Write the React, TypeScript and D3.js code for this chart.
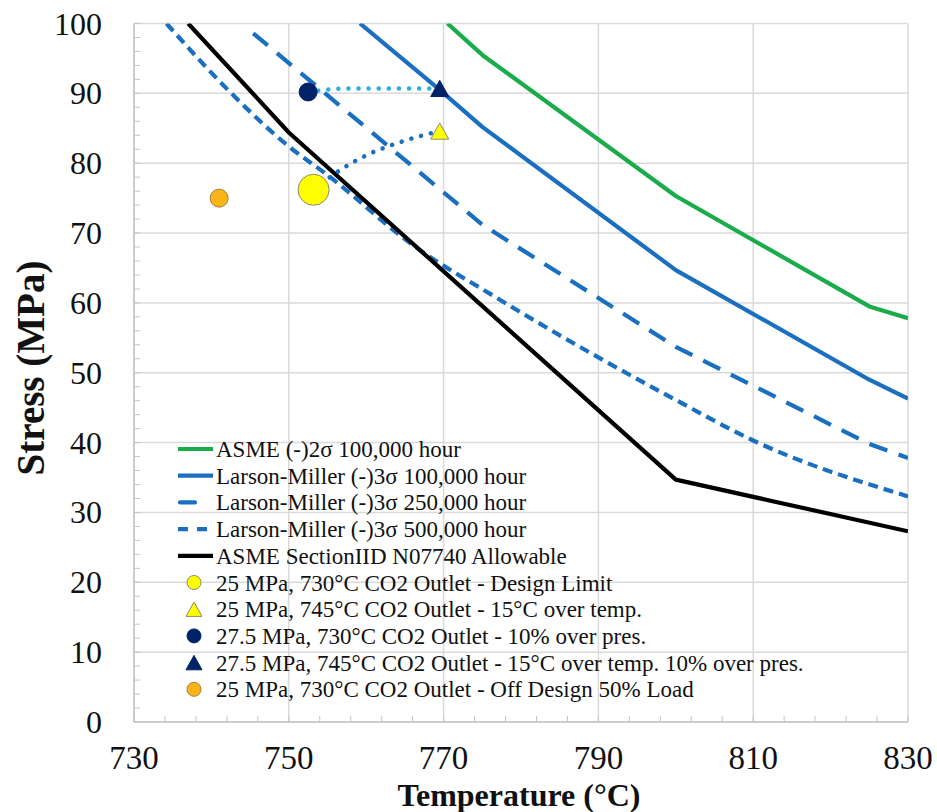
import React from "react";
import * as d3 from "d3";

// chart data
const xTicks = [730, 750, 770, 790, 810, 830];
const yTicks = [0, 10, 20, 30, 40, 50, 60, 70, 80, 90, 100];

const asme2s = [[770.5, 100], [775, 95.5], [800, 75.3], [825, 59.5], [830, 57.8]];
const lm100k = [[759.2, 100], [769.5, 90.5], [775, 85.2], [800, 64.7], [825, 49], [830, 46.3]];
const lm250k = [[745.4, 98.6], [775, 71.2], [800, 53.7], [825, 39.8], [830, 37.8]];
const lm500k = [[734.2, 100], [742.4, 90.2], [750, 82.4], [755, 78.3], [766, 68.3], [776.9, 60.7], [800, 46.1], [810, 40.3], [830, 32.3]];
const asmeAllow = [[737, 100], [750, 84.4], [800, 34.7], [830, 27.3]];

const seriesNames = [
  "ASME (-)2σ 100,000 hour",
  "Larson-Miller (-)3σ 100,000 hour",
  "Larson-Miller (-)3σ 250,000 hour",
  "Larson-Miller (-)3σ 500,000 hour",
  "ASME SectionIID N07740 Allowable",
];

const pointNames = [
  "25 MPa, 730°C CO2 Outlet - Design Limit",
  "25 MPa, 745°C CO2 Outlet - 15°C over temp.",
  "27.5 MPa, 730°C CO2 Outlet - 10% over pres.",
  "27.5 MPa, 745°C CO2 Outlet - 15°C over temp. 10% over pres.",
  "25 MPa, 730°C CO2 Outlet - Off Design 50% Load",
];
const pointTemp = [753.2, 769.5, 752.5, 769.5, 741];
const pointStress = [76.2, 84.6, 90.2, 90.7, 75];

// dotted connectors between the operating points
const overPres = [[752.5, 90.2], [757.5, 90.7], [769.5, 90.7]];
const overTemp = [[753.2, 76.2], [756.6, 79.0], [759.6, 80.9], [765.2, 83.3], [769.5, 84.6]];

const W = 937;
const H = 812;
const left = 134, right = 908, top = 23.5, bottom = 722;
const serif = "'Liberation Serif', 'Times New Roman', Times, 'DejaVu Serif', serif";

const lineStyles = [
  { stroke: "#1aac4b", dash: undefined },
  { stroke: "#1a6fc0", dash: undefined },
  { stroke: "#1a6fc0", dash: "19 12" },
  { stroke: "#1a6fc0", dash: "10 6" },
  { stroke: "#000000", dash: undefined },
];

const markerStyles = [
  { shape: "circle", fill: "#ffff00", stroke: "#8a8a6a", size: 15.5, legend: 7 },
  { shape: "triangle", fill: "#ffff00", stroke: "#8a8a6a", size: 18, legend: 16 },
  { shape: "circle", fill: "#002266", stroke: "#002266", size: 9, legend: 7 },
  { shape: "triangle", fill: "#002266", stroke: "#002266", size: 18, legend: 16 },
  { shape: "circle", fill: "#f9b418", stroke: "#a08040", size: 9, legend: 7 },
];

function triangle(cx: number, cy: number, w: number) {
  const h = w * 0.9;
  return `M${cx},${cy - h / 2}L${cx + w / 2},${cy + h / 2}L${cx - w / 2},${cy + h / 2}Z`;
}

export default function App() {
  const x = d3.scaleLinear().domain([730, 830]).range([left, right]);
  const y = d3.scaleLinear().domain([0, 100]).range([bottom, top]);

  const line = d3.line<number[]>().x(d => x(d[0])).y(d => y(d[1]));
  const smooth = d3.line<number[]>().x(d => x(d[0])).y(d => y(d[1])).curve(d3.curveMonotoneX);

  const curves = [asme2s, lm100k, lm250k, lm500k, asmeAllow];
  const xMinor = d3.range(730, 831, 4);
  const yMinor = d3.range(0, 101, 2);

  const legX = 178, legTextX = 216, legY0 = 449, legStep = 26.7;

  return (
    <svg width={W} height={H} style={{ position: "absolute", left: 0, top: 0, background: "#fff" }}>
      <defs>
        <clipPath id="plot">
          <rect x={left} y={top} width={right - left} height={bottom - top} />
        </clipPath>
      </defs>
      {/* grid */}
      {yTicks.map(t => (
        <line key={"gy" + t} x1={left} x2={right} y1={y(t)} y2={y(t)} stroke="#dadada" strokeWidth={1.5} />
      ))}
      {xTicks.map(t => (
        <line key={"gx" + t} x1={x(t)} x2={x(t)} y1={top} y2={bottom} stroke="#dadada" strokeWidth={1.5} />
      ))}
      {/* axes and minor ticks */}
      <line x1={left} x2={left} y1={top} y2={bottom} stroke="#c4c4c4" strokeWidth={1.5} />
      <line x1={left} x2={right} y1={bottom} y2={bottom} stroke="#c4c4c4" strokeWidth={1.5} />
      {yMinor.map(t => (
        <line key={"my" + t} x1={left} x2={left + 6} y1={y(t)} y2={y(t)} stroke="#c4c4c4" strokeWidth={1} />
      ))}
      {xMinor.map(t => (
        <line key={"mx" + t} x1={x(t)} x2={x(t)} y1={bottom} y2={bottom - 6} stroke="#c4c4c4" strokeWidth={1} />
      ))}

      {/* tick labels */}
      <g style={{ fontFamily: serif }} fill="#111">
        {yTicks.map(t => (
          <text key={"ly" + t} x={102} y={y(t) + 11} fontSize={32} textAnchor="end">{t}</text>
        ))}
        {xTicks.map(t => (
          <text key={"lx" + t} x={x(t)} y={769} fontSize={33} textAnchor="middle">{t}</text>
        ))}
        <text x={519} y={806} fontSize={32} fontWeight="bold" textAnchor="middle">Temperature (°C)</text>
        <text transform="translate(44,368) rotate(-90)" fontSize={39} fontWeight="bold" textAnchor="middle">Stress (MPa)</text>
      </g>

      {/* curves */}
      <g clipPath="url(#plot)" fill="none">
        {curves.map((c, i) => (
          <path key={"c" + i} d={(i === 3 ? smooth(c) : line(c)) || ""}
            stroke={lineStyles[i].stroke} strokeWidth={4.2}
            strokeDasharray={lineStyles[i].dash} strokeLinejoin="round" />
        ))}
        <path d={smooth(overPres) || ""} stroke="#2aaee6" strokeWidth={4.5}
          strokeDasharray="0.1 10" strokeLinecap="round" />
        <path d={smooth(overTemp) || ""} stroke="#1a6fc0" strokeWidth={4.5}
          strokeDasharray="0.1 10" strokeLinecap="round" />
      </g>

      {/* operating points */}
      {pointTemp.map((t, i) => {
        const m = markerStyles[i];
        const cx = x(t), cy = y(pointStress[i]);
        return m.shape === "circle" ? (
          <circle key={"p" + i} cx={cx} cy={cy} r={m.size} fill={m.fill} stroke={m.stroke} strokeWidth={1} />
        ) : (
          <path key={"p" + i} d={triangle(cx, cy, m.size)} fill={m.fill} stroke={m.stroke} strokeWidth={1} />
        );
      })}

      {/* legend */}
      <g style={{ fontFamily: serif }} fontSize={23} fill="#111">
        {seriesNames.map((n, i) => {
          const ly = legY0 + legStep * i;
          const st = lineStyles[i];
          return (
            <g key={"ls" + i}>
              {i === 2 ? (
                <line x1={legX + 2} x2={legX + 17} y1={ly} y2={ly} stroke={st.stroke} strokeWidth={4.2} strokeLinecap="round" />
              ) : (
                <line x1={legX} x2={legX + 35} y1={ly} y2={ly} stroke={st.stroke} strokeWidth={4.2}
                  strokeDasharray={i === 3 ? "10 9" : undefined} />
              )}
              <text x={legTextX} y={ly + 8}>{n}</text>
            </g>
          );
        })}
        {pointNames.map((n, i) => {
          const ly = legY0 + legStep * (i + 5);
          const m = markerStyles[i];
          const cx = 194;
          return (
            <g key={"lp" + i}>
              {m.shape === "circle" ? (
                <circle cx={cx} cy={ly} r={m.legend} fill={m.fill} stroke={m.stroke} strokeWidth={1} />
              ) : (
                <path d={triangle(cx, ly, m.legend)} fill={m.fill} stroke={m.stroke} strokeWidth={1} />
              )}
              <text x={legTextX} y={ly + 8}>{n}</text>
            </g>
          );
        })}
      </g>
    </svg>
  );
}
